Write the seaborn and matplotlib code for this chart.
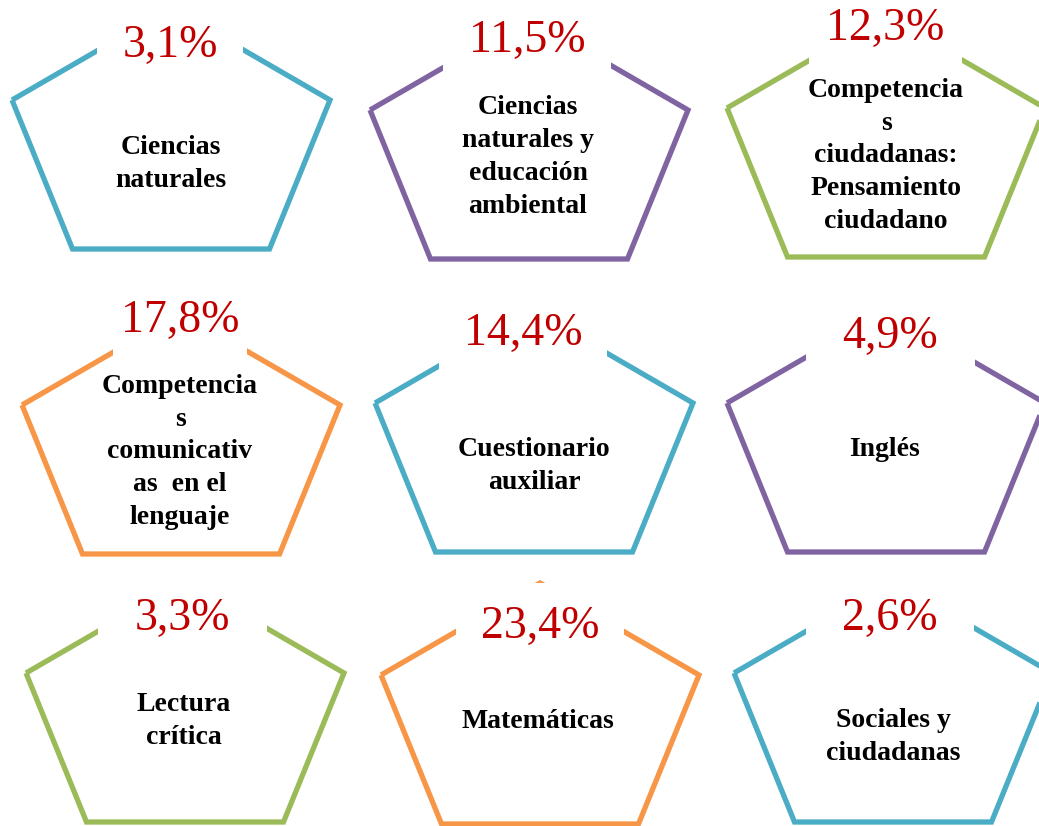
import matplotlib
matplotlib.use("Agg")
import matplotlib.pyplot as plt
import seaborn as sns
import numpy as np
import pandas as pd
from matplotlib.patches import Rectangle

# ---------------- data ----------------
areas = [
    "Ciencias\nnaturales",
    "Ciencias\nnaturales y\neducación\nambiental",
    "Competencia\ns\nciudadanas:\nPensamiento\nciudadano",
    "Competencia\ns\ncomunicativ\nas  en el\nlenguaje",
    "Cuestionario\nauxiliar",
    "Inglés",
    "Lectura\ncrítica",
    "Matemáticas",
    "Sociales y\nciudadanas",
]
percentages = [3.1, 11.5, 12.3, 17.8, 14.4, 4.9, 3.3, 23.4, 2.6]
palette_names = ["teal", "purple", "green", "orange", "teal", "purple",
                 "green", "orange", "teal"]

# ---------------- layout / style ----------------
colors = {"teal": "#4BACC6", "purple": "#8064A2", "green": "#9BBB59",
          "orange": "#F79646"}
# apex x, side-vertex y of each pentagon (pixel layout)
anchors = [(171, 100), (529, 110), (886, 108),
           (181, 405), (534, 403), (886, 403),
           (185, 673), (540, 675), (893, 673)]
pct_offsets = [(-1, -54), (-2, -69), (-1, -79),
               (-1, -84), (-11, -69), (4, -66),
               (-3, -54), (0, -48), (-3, -54)]
lab_offsets = [(0, 64), (-1, 47), (0, 48),
               (-1, 47), (0, 63), (-1, 47),
               (-1, 48), (-2, 46), (0, 64)]
box_widths = [146, 168, 153, 134, 168, 169, 169, 168, 168]
HALF_W, BOT_HALF, APEX_H, BOT_H = 159, 98.5, 92, 149

sns.set_theme(style="white")
plt.rcParams["font.family"] = ["Liberation Serif", "DejaVu Serif"]

W, H = 1039, 826
fig = plt.figure(figsize=(W / 100, H / 100), dpi=100)
ax = fig.add_axes([0, 0, 1, 1])
ax.set_xlim(0, W)
ax.set_ylim(H, 0)
ax.axis("off")

for i, (txt, val, cname) in enumerate(zip(areas, percentages, palette_names)):
    cx, sy = anchors[i]
    xs = [cx - HALF_W, cx, cx + HALF_W, cx + BOT_HALF, cx - BOT_HALF, cx - HALF_W]
    ys = [sy, sy - APEX_H, sy, sy + BOT_H, sy + BOT_H, sy]
    df = pd.DataFrame({"x": xs, "y": ys, "order": range(len(xs))})
    sns.lineplot(data=df, x="x", y="y", sort=False, estimator=None, ax=ax,
                 color=colors[cname], linewidth=3.8, zorder=2)
    ax.lines[-1].set_solid_joinstyle("miter")
    ax.lines[-1].set_solid_capstyle("butt")

    px, py = cx + pct_offsets[i][0], sy + pct_offsets[i][1]
    bw = box_widths[i]
    ax.add_patch(Rectangle((px - bw / 2, py - 44), bw, 86, facecolor="white",
                           edgecolor="none", zorder=3))
    ax.text(px, py, f"{val:.1f}%".replace(".", ","), ha="center", va="center",
            fontsize=33, color="#C00000", zorder=4)
    lx, ly = cx + lab_offsets[i][0], sy + lab_offsets[i][1]
    ax.text(lx, ly, txt, ha="center", va="center", fontsize=20,
            fontweight="bold", color="black", linespacing=1.42, zorder=4)

ax.set_xlabel("")
ax.set_ylabel("")
fig.savefig("out.png", dpi=100, facecolor="white")
